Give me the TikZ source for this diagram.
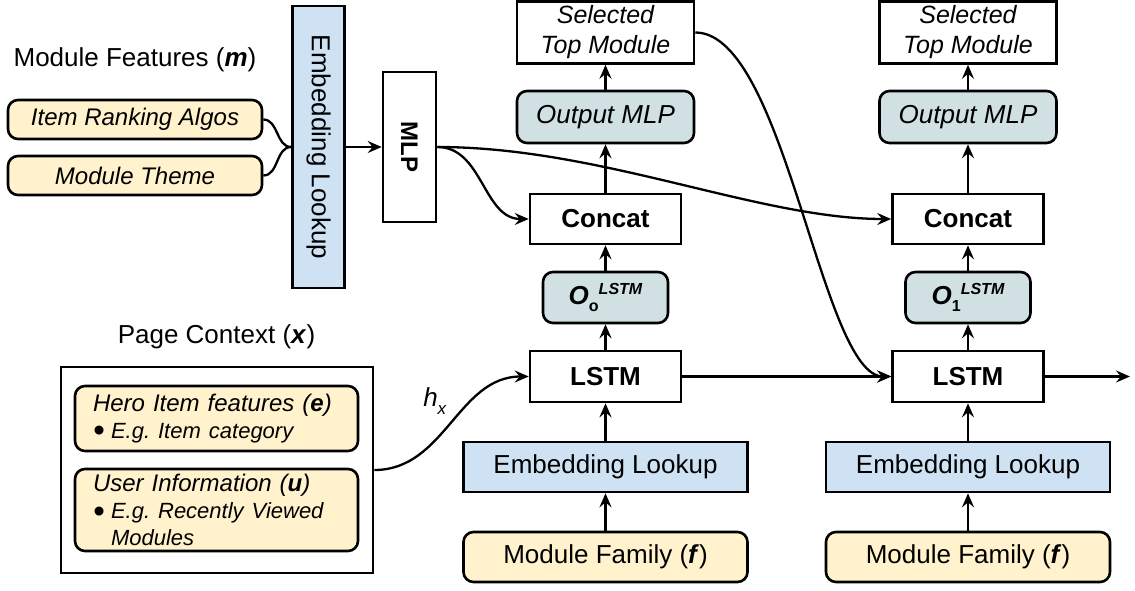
\documentclass[tikz,border=0pt]{standalone}
\usepackage{fontspec}
\setmainfont{Liberation Sans}
\usepackage{xcolor}
\usetikzlibrary{arrows.meta}
\definecolor{featyellow}{HTML}{FFF2CC}
\definecolor{embblue}{HTML}{CFE2F3}
\definecolor{mlpgray}{HTML}{D0E0E3}
\frenchspacing
\newcommand{\fsz}[1]{\fontsize{#1}{#1}\selectfont}
\newcommand{\bulsize}{\fontsize{22}{27}\selectfont}
\newcommand{\bul}{\makebox[18pt][l]{\raisebox{-3.5pt}[0pt][0pt]{\scalebox{1.5}{\textbullet}}}}

\begin{document}
\begin{tikzpicture}[x=1pt,y=-1pt,
    box/.style={draw,line width=2.6pt,inner sep=0pt,align=center,font=\fsz{26}},
    featbox/.style={box,fill=featyellow,rounded corners=10pt},
    embbox/.style={box,fill=embblue},
    mlpbox/.style={box,fill=mlpgray,rounded corners=10pt},
    wire/.style={line width=2.3pt},
    arr/.style={wire,-{Stealth[length=14pt,width=12pt,inset=5pt]}}]
  \useasboundingbox (0,0) rectangle (1135,590);
  % module features
  \node[font=\fsz{26}] (featlbl) at (135,60) {Module Features (\textbf{\textit{m}})};
  \node[featbox,minimum width=254,minimum height=39,font=\fsz{24}\itshape] (algo) at (135,119.5) {Item Ranking Algos};
  \node[featbox,minimum width=254,minimum height=39,font=\fsz{24}\itshape] (theme) at (135,175.5) {Module Theme};
  \node[embbox,rotate=-90,minimum width=282,minimum height=52] (embv) at (318.5,147) {Embedding Lookup};
  \node[box,rotate=-90,minimum width=150,minimum height=53,font=\fsz{24}\bfseries] (mlp) at (409.5,147) {MLP};
  \draw[wire] (algo.east) to[out=0,in=180] (embv.south);
  \draw[wire] (theme.east) to[out=0,in=180] (embv.south);
  \draw[arr] (embv.north) -- (mlp.south);
  % one column per step
  \foreach \c/\cx/\idx in {1/605.5/o,2/968/1} {
    \node[box,minimum width=177,minimum height=62,font=\fontsize{25}{30}\selectfont\itshape] (sel\c) at (\cx,32.5) {Selected\\Top Module};
    \node[mlpbox,minimum width=177,minimum height=52,font=\fsz{26}\itshape] (out\c) at (\cx,117) {Output MLP};
    \node[box,minimum width=151,minimum height=50,font=\fsz{26}\bfseries] (cat\c) at (\cx,219) {Concat};
    \node[mlpbox,minimum width=125,minimum height=51] (o\c) at (\cx,297.5)
      {{\bfseries\itshape O}\raisebox{-7pt}{\fsz{16}\bfseries\idx}\raisebox{10pt}{\fsz{16}\bfseries\itshape LSTM}};
    \node[box,minimum width=151,minimum height=51,font=\fsz{26}\bfseries] (lstm\c) at (\cx,376.5) {LSTM};
    \node[embbox,minimum width=284,minimum height=50] (emb\c) at (\cx,467) {Embedding Lookup};
    \node[featbox,minimum width=284,minimum height=50] (fam\c) at (\cx,557) {Module Family (\textbf{\textit{f}})};
    \draw[arr] (fam\c) -- (emb\c);
    \draw[arr] (emb\c) -- (lstm\c);
    \draw[arr] (lstm\c) -- (o\c);
    \draw[arr] (o\c) -- (cat\c);
    \draw[arr] (cat\c) -- (out\c);
    \draw[arr] (out\c) -- (sel\c);
  }
  \draw[arr] (mlp.north) to[out=0,in=180] (cat1.west);
  \draw[arr] (mlp.north) .. controls +(164,0) and +(-133,0) .. (cat2.west);
  \draw[arr] (sel1.east) .. controls +(90,0) and +(-70,0) .. (lstm2.west);
  \draw[arr] (lstm1) -- (lstm2);
  \coordinate (next) at (1130,376.5);
  \draw[arr] (lstm2) -- (next);
  % page context
  \node[font=\fsz{26}] (ctxlbl) at (216.5,337) {Page Context (\textbf{\textit{x}})};
  \node[draw,line width=2.6pt,minimum width=312,minimum height=206] (ctx) at (217,470) {};
  \node[featbox,minimum width=283,minimum height=65,text width=247,align=left,inner xsep=18pt,
        font=\fontsize{24}{27}\selectfont\itshape] (hero) at (216.5,418.5)
    {Hero Item features (\textbf{e})\\{\bulsize\bul E.g. Item category}};
  \node[featbox,minimum width=283,minimum height=82,text width=247,align=left,inner xsep=18pt,
        font=\fontsize{24}{27}\selectfont\itshape] (user) at (216.5,510)
    {User Information (\textbf{u})\\{\bulsize\bul E.g. Recently Viewed\\\hspace*{18pt}Modules}};
  \node[font=\fsz{26}] (hx) at (435,401) {\textit{h}\raisebox{-8pt}{\fsz{17}\textit{x}}};
  \draw[arr] (ctx.east) to[out=0,in=180] (lstm1.west);
\end{tikzpicture}
\end{document}
